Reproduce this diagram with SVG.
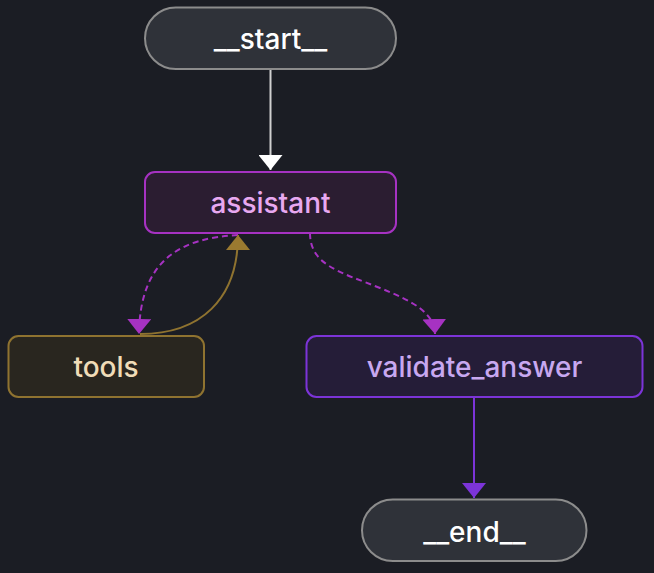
<svg xmlns="http://www.w3.org/2000/svg" width="654" height="573" viewBox="0 0 654 573">
<defs>
<style>
text{font-family:Inter,"Noto Sans","Liberation Sans",sans-serif;font-size:28px;font-weight:500;text-anchor:middle}
.term rect{fill:#2f3239;stroke:#8c8c8c;stroke-width:2}
.term text{fill:#ffffff}
.edge{fill:none;stroke-width:2}
</style>
<marker id="aw" viewBox="0 0 15 24" markerWidth="15" markerHeight="24" refX="15" refY="12" orient="auto" markerUnits="userSpaceOnUse"><path d="M0,0 L15,12 L0,24 Z" fill="#ffffff"/></marker>
<marker id="ap" viewBox="0 0 15 24" markerWidth="15" markerHeight="24" refX="15" refY="12" orient="auto" markerUnits="userSpaceOnUse"><path d="M0,0 L15,12 L0,24 Z" fill="#a632c2"/></marker>
<marker id="av" viewBox="0 0 15 24" markerWidth="15" markerHeight="24" refX="15" refY="12" orient="auto" markerUnits="userSpaceOnUse"><path d="M0,0 L15,12 L0,24 Z" fill="#7c34d8"/></marker>
<marker id="ag" viewBox="0 0 15 24" markerWidth="15" markerHeight="24" refX="15" refY="12" orient="auto" markerUnits="userSpaceOnUse"><path d="M0,0 L15,12 L0,24 Z" fill="#9a7a30"/></marker>
</defs>
<rect width="654" height="573" fill="#1b1d24"/>
<g id="edges">
<path class="edge" d="M270.5,69 L270.5,170" stroke="#d0d0d0" marker-end="url(#aw)"/>
<path class="edge" d="M238,235 C180,238 140,260 139,334" stroke="#a632c2" stroke-dasharray="6,4" marker-end="url(#ap)"/>
<path class="edge" d="M140,334 C200,334 238,300 238,235" stroke="#8f7330" marker-end="url(#ag)"/>
<path class="edge" d="M310,233 C310,265 340,272 380,288 C412,301 434,312 435,334" stroke="#a632c2" stroke-dasharray="6,4" marker-end="url(#ap)"/>
<path class="edge" d="M474,397 L474,498" stroke="#7c34d8" marker-end="url(#av)"/>
</g>
<g id="start" class="term">
<rect x="145" y="7.5" width="251" height="61.5" rx="30.75"/>
<text x="270.5" y="49">__start__</text>
</g>
<g id="assistant">
<rect x="145" y="172" width="251" height="61" rx="10" fill="#2b1d31" stroke="#a632c2" stroke-width="2"/>
<text x="270.5" y="213" fill="#e8a8f0">assistant</text>
</g>
<g id="tools">
<rect x="8.5" y="336" width="195.5" height="61" rx="10" fill="#29261f" stroke="#8f7330" stroke-width="2"/>
<text x="106" y="377" fill="#f0dcb8">tools</text>
</g>
<g id="validate_answer">
<rect x="306.5" y="336" width="336" height="61" rx="10" fill="#251d38" stroke="#7c34d8" stroke-width="2"/>
<text x="474.5" y="377" fill="#c8a8f0">validate_answer</text>
</g>
<g id="end" class="term">
<rect x="362" y="499.5" width="224.5" height="61.5" rx="30.75"/>
<text x="474.5" y="542">__end__</text>
</g>
</svg>
